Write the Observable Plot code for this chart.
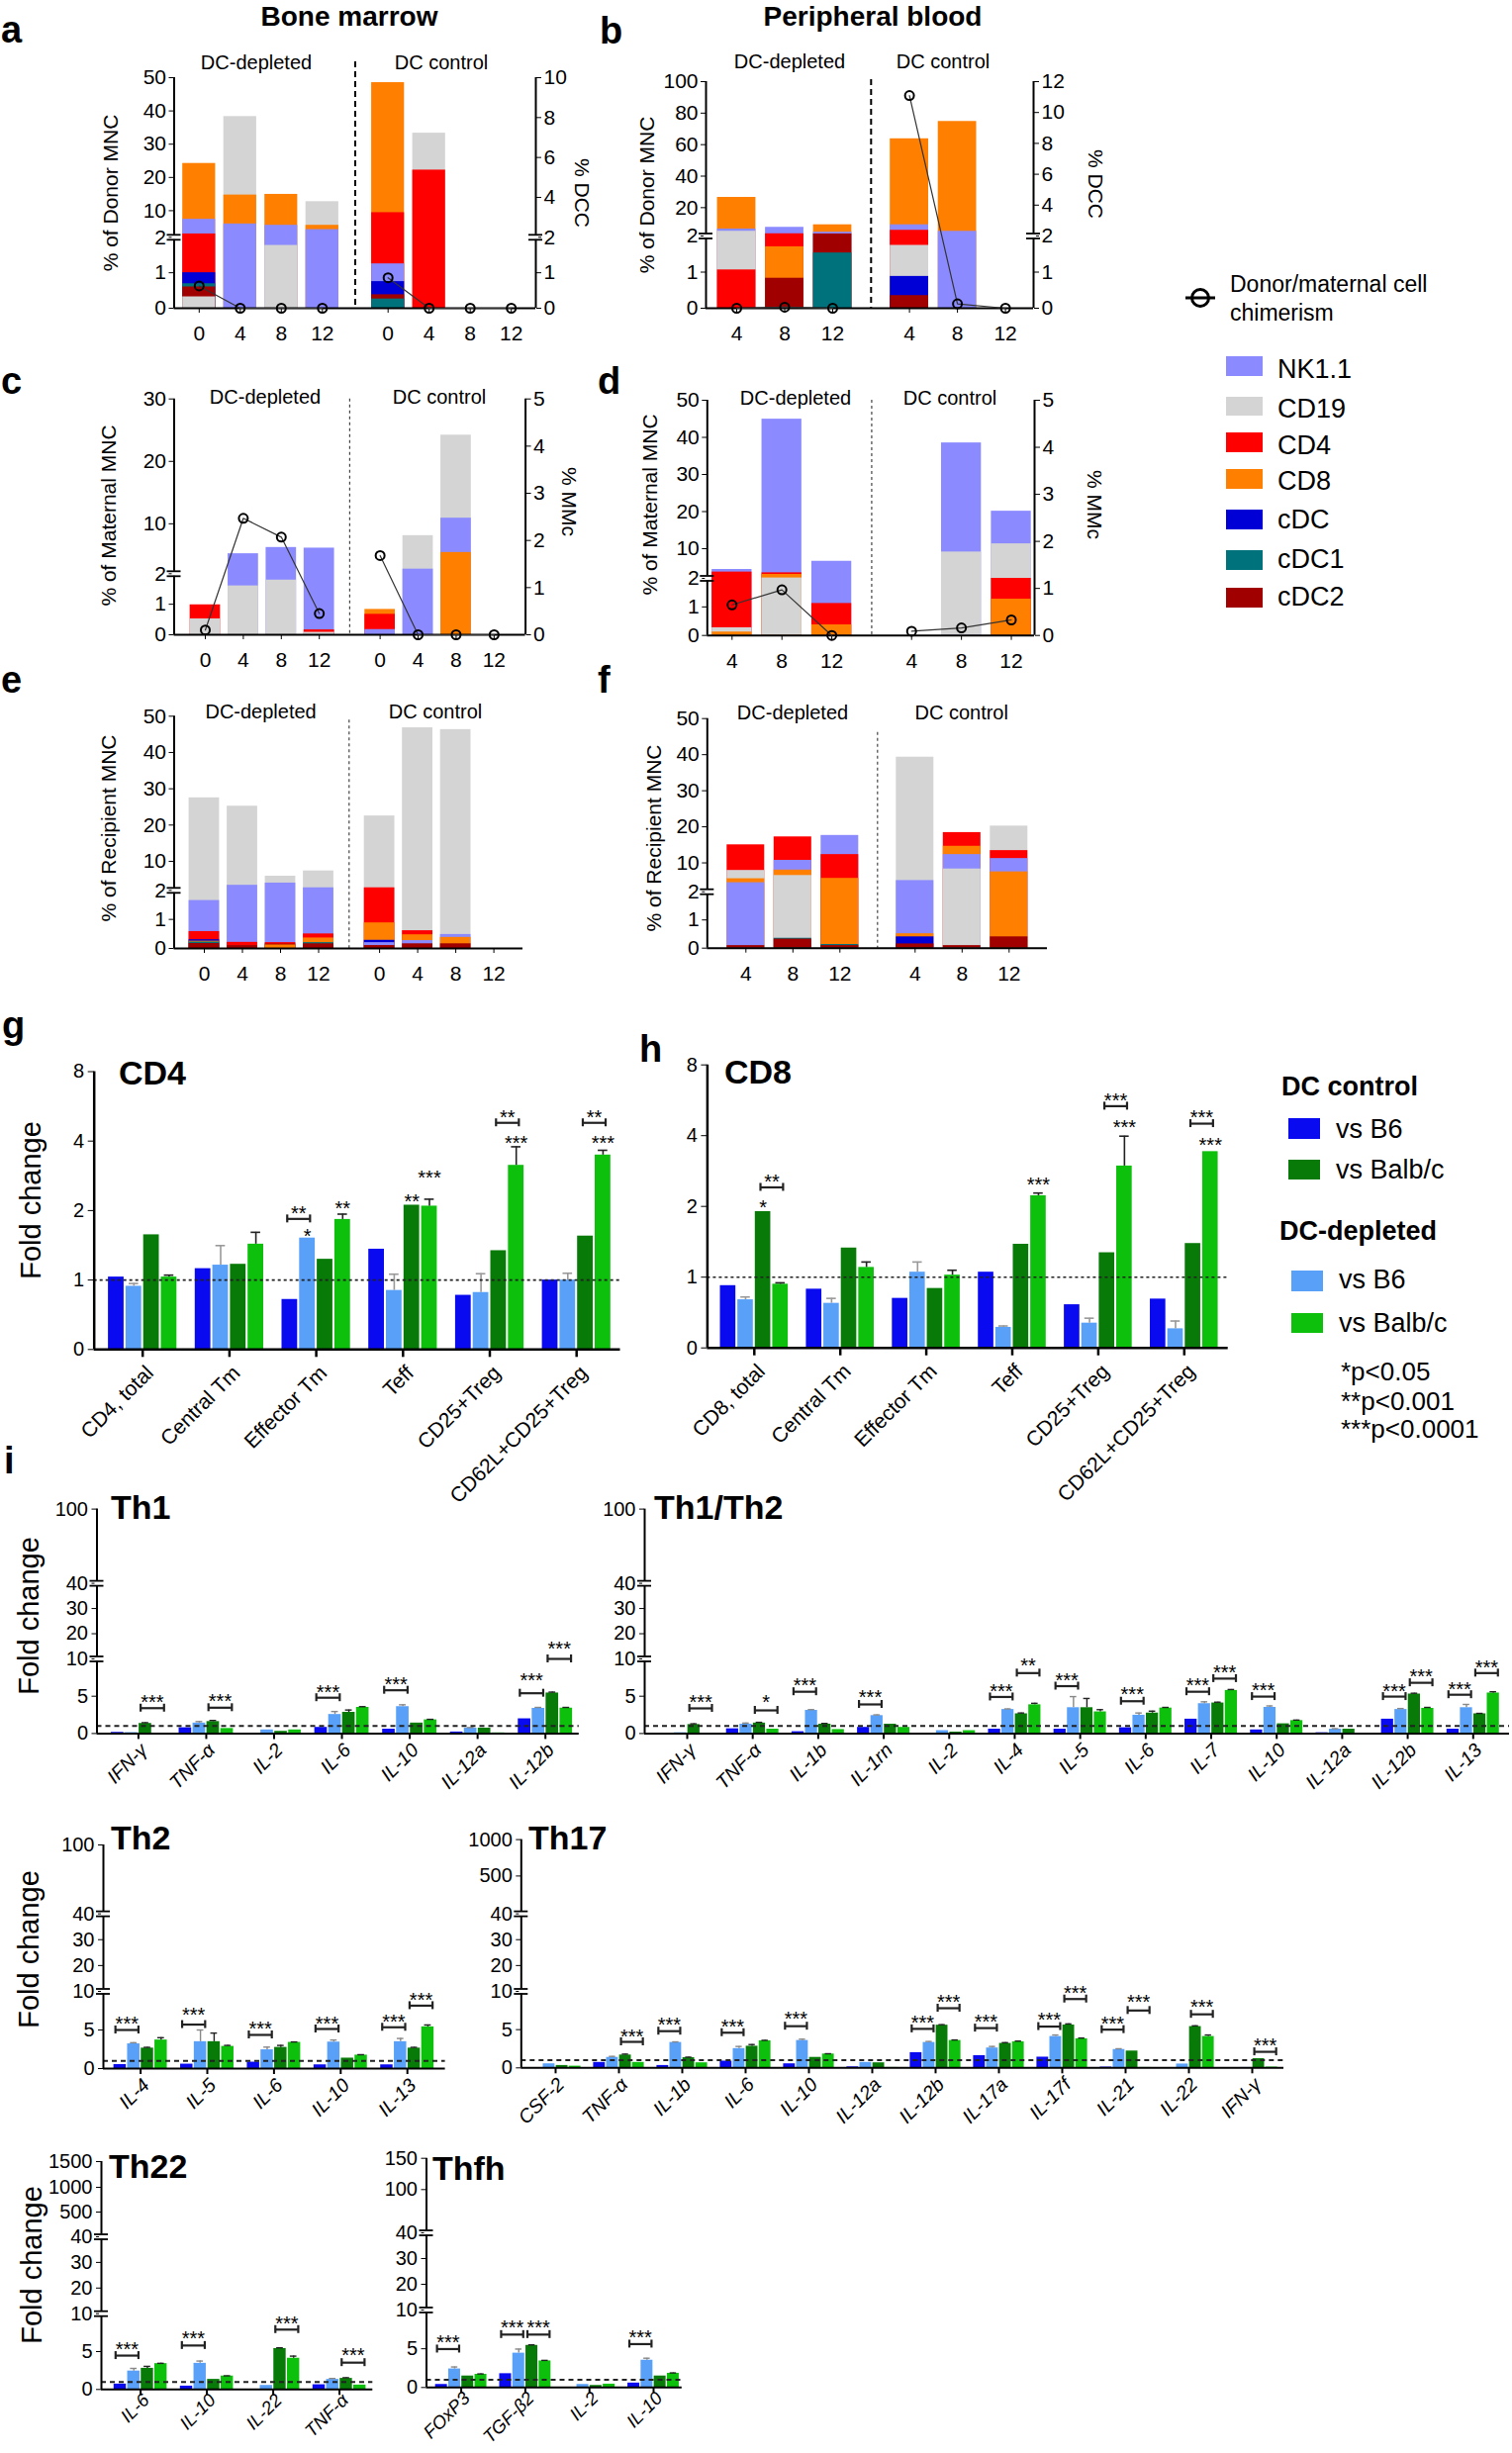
<!DOCTYPE html>
<html><head><meta charset="utf-8">
<script src="https://cdn.jsdelivr.net/npm/d3@7"></script>
<script src="https://cdn.jsdelivr.net/npm/@observablehq/plot@0.6"></script>
<style>
html,body{margin:0;padding:0;background:#fff;}
#root{position:relative;width:1528px;height:2479px;overflow:hidden;background:#fff;font-family:"Liberation Sans",Arial,Helvetica,sans-serif;color:#000;}
.t{position:absolute;white-space:nowrap;}
</style></head>
<body><div id="root"></div>
<script>
// ======================= DATA =======================
const cellTypes = ["NK1.1", "CD19", "CD4", "CD8", "cDC", "cDC1", "cDC2"];
const cellColors = ["#8b8bff", "#d4d4d4", "#ff0000", "#ff8000", "#0000d6", "#00727c", "#a00000"];
const weeksBM = ["0", "4", "8", "12"];
const weeksPB = ["4", "8", "12"];
const groupLabels = ["DC-depleted", "DC control"];

// a – Bone marrow, % of donor MNC (DC-depleted 0,4,8,12 | DC control 0,4,8,12)
const aNK1 = [7.4, 6.0, 5.6, 4.3, 1.25, 0, 0, 0];
const aCD19 = [0.32, 38.3, 1.77, 12.7, 0, 33.3, 0, 0];
const aCD4 = [3.0, 0, 0, 0, 9.4, 22.2, 0, 0];
const aCD8 = [24.2, 14.7, 14.9, 5.6, 48.5, 0, 0, 0];
const aCDC = [1.0, 0, 0, 0, 0.75, 0, 0, 0];
const aCDC1 = [0.69, 0, 0, 0, 0.26, 0, 0, 0];
const aCDC2 = [0.6, 0, 0, 0, 0.38, 0, 0, 0];
const aChim = [0.63, 0, 0, 0, 0.86, 0, 0, 0];

// b – Peripheral blood, % of donor MNC (4,8,12 | 4,8,12)
const bNK1 = [6.4, 7.5, 4.4, 9.1, 4.95, 0];
const bCD19 = [5.0, 0, 0, 1.74, 0, 0];
const bCD4 = [1.06, 3.4, 0, 5.6, 0, 0];
const bCD8 = [26.5, 1.7, 9.1, 63.7, 74.7, 0];
const bCDC = [0, 0, 0, 0.88, 0, 0];
const bCDC1 = [0, 0, 1.53, 0, 0, 0];
const bCDC2 = [0, 0.83, 3.3, 0.35, 0, 0];
const bChim = [0, 0.03, 0, 11.1, 0.12, 0];

// c – Bone marrow, % of maternal MNC
const cNK1 = [0, 5.2, 6.2, 6.1, 0.17, 2.73, 10.9, 0];
const cCD19 = [0.52, 1.6, 1.79, 0.08, 0, 8.1, 24.2, 0];
const cCD4 = [0.98, 0, 0, 0.16, 0.67, 0, 0, 0];
const cCD8 = [0, 0, 0, 0, 0.83, 0, 5.4, 0];
const cCDC = [0, 0, 0, 0, 0, 0, 0, 0];
const cCDC1 = [0, 0, 0, 0, 0, 0, 0, 0];
const cCDC2 = [0, 0, 0, 0, 0, 0, 0, 0];
const cChim = [0.1, 2.47, 2.07, 0.45, 1.68, 0, 0, 0];

// d – Peripheral blood, % of maternal MNC
const dNK1 = [4.4, 44.9, 6.6, 0, 38.5, 20.1];
const dCD19 = [0.27, 2.1, 0, 0, 9.1, 11.3];
const dCD4 = [3.7, 3.5, 1.12, 0, 0, 2.0];
const dCD8 = [0.12, 3.07, 0.37, 0, 0, 1.27];
const dCDC = [0, 0, 0, 0, 0, 0];
const dCDC1 = [0, 0, 0, 0, 0, 0];
const dCDC2 = [0, 0, 0, 0, 0, 0];
const dChim = [0.65, 0.97, 0, 0.09, 0.16, 0.33];

// e – Bone marrow, % of recipient MNC
const eNK1 = [1.65, 3.4, 4.0, 2.7, 0.2, 0.27, 0.48, 0];
const eCD19 = [27.5, 25.2, 5.9, 7.35, 22.5, 46.8, 46.3, 0];
const eCD4 = [0.58, 0.21, 0.2, 0.5, 2.7, 0.61, 0, 0];
const eCD8 = [0.25, 0.1, 0.12, 0.36, 0.88, 0.47, 0.38, 0];
const eCDC = [0.3, 0, 0, 0, 0.28, 0, 0, 0];
const eCDC1 = [0.22, 0, 0, 0.2, 0, 0, 0, 0];
const eCDC2 = [0.17, 0.1, 0.15, 0.16, 0.1, 0.16, 0.16, 0];

// f – Peripheral blood, % of recipient MNC
const fNK1 = [4.5, 10.7, 17.6, 5.1, 12.3, 11.2];
const fCD19 = [7.9, 6.5, 0, 39.3, 8.3, 20.2];
const fCD4 = [15.0, 17.2, 12.3, 0, 18.4, 13.4];
const fCD8 = [5.6, 8.0, 5.7, 0.51, 14.6, 7.5];
const fCDC = [0, 0, 0, 0.4, 0, 0];
const fCDC1 = [0, 0.35, 0.13, 0, 0, 0];
const fCDC2 = [0.09, 0.32, 0.09, 0.15, 0.09, 0.4];

// g/h/i series: DC control vs B6, DC-depleted vs B6, DC control vs Balb/c, DC-depleted vs Balb/c
const seriesNames = ["DC control vs B6", "DC-depleted vs B6", "DC control vs Balb/c", "DC-depleted vs Balb/c"];
const seriesColors = ["#0a0af0", "#58a0f8", "#077a07", "#0cc00c"];

// g – CD4
const gCats = ["CD4, total", "Central Tm", "Effector Tm", "Teff", "CD25+Treg", "CD62L+CD25+Treg"];
const gCtrlB6 = [1.03, 1.12, 0.72, 1.36, 0.78, 1.0];
const gDepB6 = [0.91, 1.16, 1.52, 0.85, 0.82, 1.0];
const gCtrlBalb = [1.57, 1.17, 1.23, 2.11, 1.34, 1.55];
const gDepBalb = [1.03, 1.43, 1.83, 2.09, 3.14, 3.48];
const gDepB6Err = [0.95, 1.41, null, 1.06, 1.065, 1.07];
const gDepBalbErr = [1.05, 1.61, 1.93, 2.24, 3.78, 3.65];
// [category, from series, to series, bracket level, text level, label]
const gSig = [
  [2, 0, 1, 1.84, 2.05, "**"], [2, 1, 1, null, 1.62, "*"], [2, 3, 3, null, 2.15, "**"],
  [3, 2, 2, null, 2.3, "**"], [3, 3, 3, null, 2.9, "***"],
  [4, 2, 3, 4.8, 5.3, "**"], [4, 3, 3, null, 4.13, "***"],
  [5, 2, 3, 4.8, 5.3, "**"], [5, 3, 3, null, 4.13, "***"]
];

// h – CD8
const hCats = ["CD8, total", "Central Tm", "Effector Tm", "Teff", "CD25+Treg", "CD62L+CD25+Treg"];
const hCtrlB6 = [0.88, 0.83, 0.70, 1.05, 0.61, 0.69];
const hDepB6 = [0.68, 0.63, 1.05, 0.29, 0.35, 0.27];
const hCtrlBalb = [1.9, 1.33, 0.84, 1.38, 1.27, 1.39];
const hDepBalb = [0.9, 1.1, 1.02, 2.22, 2.97, 3.42];
const hDepB6Err = [0.72, 0.70, 1.16, 0.31, 0.42, 0.38];
const hDepBalbErr = [0.92, 1.16, 1.07, 2.28, 3.98, null];
const hSig = [
  [0, 2, 2, null, 2.07, "*"], [0, 2, 3, 2.41, 2.66, "**"],
  [3, 3, 3, null, 2.6, "***"],
  [4, 2, 3, 5.34, 5.92, "***"], [4, 3, 3, null, 4.53, "***"],
  [5, 2, 3, 4.5, 5.0, "***"], [5, 3, 3, null, 3.83, "***"]
];

// i – Th1
const th1Cats = ["IFN-γ", "TNF-α", "IL-2", "IL-6", "IL-10", "IL-12a", "IL-12b"];
const th1CtrlB6 = [0.15, 0.77, 0, 0.82, 0.58, 0.2, 1.97];
const th1DepB6 = [0.12, 1.4, 0.48, 2.55, 3.6, 0.72, 3.37];
const th1CtrlBalb = [1.35, 1.6, 0.29, 2.84, 1.4, 0.72, 5.43];
const th1DepBalb = [0.05, 0.67, 0.48, 3.5, 1.83, 0.08, 3.4];
const th1DepB6Err = [null, 1.6, null, 2.95, 3.85, 0.8, 3.5];
const th1CtrlBalbErr = [1.45, 1.75, null, 3.15, null, null, 5.55];
const th1DepBalbErr = [null, null, null, 3.6, 1.9, null, 3.5];
const th1Sig = [[0, 2, 3, 3.4, 4.8, "***"], [1, 2, 3, 3.46, 5.0, "***"], [3, 0, 1, 4.8, 6.2, "***"],
  [4, 0, 1, 5.8, 7.2, "***"], [6, 0, 1, 5.4, 7.7, "***"], [6, 2, 3, 10, 16.1, "***"]];

// i – Th1/Th2
const thxCats = ["IFN-γ", "TNF-α", "IL-1b", "IL-1rn", "IL-2", "IL-4", "IL-5", "IL-6", "IL-7", "IL-10", "IL-12a", "IL-12b", "IL-13"];
const thxCtrlB6 = [0.05, 0.63, 0.24, 0.82, 0, 0.58, 0.58, 0.77, 1.92, 0.48, 0.1, 1.92, 0.58];
const thxDepB6 = [0.1, 1.25, 3.1, 2.4, 0.38, 3.22, 3.46, 2.45, 4.0, 3.5, 0.58, 3.22, 3.46];
const thxCtrlBalb = [1.2, 1.4, 1.25, 1.25, 0.19, 2.64, 3.46, 2.74, 4.09, 1.3, 0.58, 5.29, 2.64];
const thxDepBalb = [0.05, 0.58, 0.53, 0.82, 0.38, 3.85, 2.9, 3.41, 5.77, 1.73, 0.05, 3.37, 5.43];
const thxDepB6Err = [null, 1.4, 3.2, 2.5, null, 3.3, 4.95, 2.75, 4.25, 3.7, 0.65, 3.35, 3.9];
const thxCtrlBalbErr = [1.3, 1.5, 1.35, null, null, 2.75, 4.7, 3.0, 4.2, null, null, 5.4, 2.7];
const thxDepBalbErr = [null, null, null, null, null, 4.05, 3.2, 3.5, 5.9, 1.8, null, 3.5, 5.6];
const thxSig = [[0, 2, 3, 3.37, 4.8, "***"], [1, 2, 3, 3.1, 4.8, "*"], [2, 0, 1, 5.6, 7.1, "***"],
  [3, 0, 1, 3.9, 5.5, "***"], [5, 0, 1, 4.9, 6.25, "***"], [5, 2, 3, 8.1, 9.7, "**"],
  [6, 0, 1, 6.35, 7.7, "***"], [7, 0, 1, 4.33, 5.96, "***"], [8, 0, 1, 5.6, 7.07, "***"],
  [8, 2, 3, 7.36, 8.8, "***"], [9, 0, 1, 4.95, 6.4, "***"], [11, 0, 1, 4.95, 6.35, "***"],
  [11, 2, 3, 6.8, 8.3, "***"], [12, 0, 1, 5.2, 6.6, "***"], [12, 2, 3, 8.1, 9.5, "***"]];

// i – Th2
const th2Cats = ["IL-4", "IL-5", "IL-6", "IL-10", "IL-13"];
const th2CtrlB6 = [0.52, 0.57, 0.83, 0.48, 0.48];
const th2DepB6 = [3.2, 3.48, 2.43, 3.43, 3.48];
const th2CtrlBalb = [2.65, 3.48, 2.74, 1.35, 2.65];
const th2DepBalb = [3.7, 2.87, 3.39, 1.74, 5.4];
const th2DepB6Err = [3.35, 5.0, 2.78, 3.7, 3.9];
const th2CtrlBalbErr = [2.75, 4.6, 3.0, null, 2.75];
const th2DepBalbErr = [4.0, 3.0, 3.45, 1.8, 5.65];
const th2Sig = [[0, 0, 1, 5.0, 6.4, "***"], [1, 0, 1, 5.7, 7.6, "***"], [2, 0, 1, 4.36, 5.77, "***"],
  [3, 0, 1, 5.13, 6.4, "***"], [4, 0, 1, 5.35, 6.7, "***"], [4, 2, 3, 8.15, 9.5, "***"]];

// i – Th17
const th17Cats = ["CSF-2", "TNF-α", "IL-1b", "IL-6", "IL-10", "IL-12a", "IL-12b", "IL-17a", "IL-17f", "IL-21", "IL-22", "IFN-γ"];
const th17CtrlB6 = [0, 0.71, 0.31, 0.88, 0.53, 0.13, 1.99, 1.6, 1.4, 0.1, 0, 0];
const th17DepB6 = [0.53, 1.37, 3.32, 2.52, 3.58, 0.71, 3.32, 2.6, 4.1, 2.4, 0.5, 0.05];
const th17CtrlBalb = [0.31, 1.68, 1.33, 2.83, 1.37, 0.66, 5.58, 3.2, 5.6, 2.2, 5.4, 1.2];
const th17DepBalb = [0.22, 0.71, 0.66, 3.54, 1.81, 0.05, 3.58, 3.4, 3.8, 0.05, 4.1, 0.1];
const th17DepB6Err = [null, 1.5, 3.4, 2.8, 3.75, null, 3.45, 2.8, 4.3, 2.5, null, null];
const th17CtrlBalbErr = [null, 1.8, 1.4, 3.05, null, null, 5.65, 3.3, 5.75, null, 5.5, null];
const th17DepBalbErr = [null, null, null, 3.6, 1.85, null, 3.65, 3.5, 3.9, null, 4.3, null];
const th17Sig = [[1, 2, 3, 3.4, 4.75, "***"], [2, 0, 1, 4.8, 6.2, "***"], [3, 0, 1, 4.6, 6.0, "***"],
  [4, 0, 1, 5.45, 7.0, "***"], [6, 0, 1, 5.1, 6.5, "***"], [6, 2, 3, 7.8, 9.3, "***"],
  [7, 0, 1, 5.2, 6.6, "***"], [8, 0, 1, 5.4, 6.9, "***"], [8, 2, 3, 9.0, 11.1, "***"],
  [9, 0, 1, 5.0, 6.4, "***"], [9, 2, 3, 7.5, 9.2, "***"], [10, 2, 3, 7.0, 8.6, "***"],
  [11, 2, 3, 2.1, 3.5, "***"]];

// i – Th22
const th22Cats = ["IL-6", "IL-10", "IL-22", "TNF-α"];
const th22CtrlB6 = [0.71, 0.44, 0, 0.62];
const th22DepB6 = [2.43, 3.45, 0.53, 1.33];
const th22CtrlBalb = [2.79, 1.33, 5.4, 1.46];
const th22DepBalb = [3.41, 1.77, 4.12, 0.58];
const th22DepB6Err = [2.78, 3.75, null, 1.45];
const th22CtrlBalbErr = [3.05, null, 5.5, 1.55];
const th22DepBalbErr = [3.45, 1.8, 4.4, null];
const th22Sig = [[0, 0, 1, 4.47, 5.9, "***"], [1, 0, 1, 5.8, 7.3, "***"], [2, 2, 3, 7.9, 9.3, "***"], [3, 2, 3, 3.54, 5.1, "***"]];

// i – Thfh
const thfhCats = ["FOxP3", "TGF-β2", "IL-2", "IL-10"];
const thfhCtrlB6 = [0.39, 1.78, 0, 0.57];
const thfhDepB6 = [2.39, 4.43, 0.39, 3.52];
const thfhCtrlBalb = [1.48, 5.43, 0.26, 1.48];
const thfhDepBalb = [1.7, 3.43, 0.43, 1.83];
const thfhDepB6Err = [2.65, 4.96, null, 3.78];
const thfhCtrlBalbErr = [null, 5.5, null, null];
const thfhDepBalbErr = [1.75, 3.5, null, 1.88];
const thfhSig = [[0, 0, 1, 4.96, 6.4, "***"], [1, 0, 1, 6.83, 8.35, "***"], [1, 2, 3, 6.83, 8.35, "***"], [3, 0, 1, 5.6, 7.05, "***"]];

// ======================= RENDERING =======================
const FONT = '"Liberation Sans", Arial, Helvetica, sans-serif';
const W = 1528, H = 2479;
const root = document.getElementById("root");

function mount(svg, fs) {
  Object.assign(svg.style, {position: "absolute", left: "0px", top: "0px", maxWidth: "none", width: W + "px", height: H + "px",
    background: "none", overflow: "visible", pointerEvents: "none", fontFamily: FONT, fontSize: fs + "px"});
  root.appendChild(svg);
}

function T(str, x, y, o = {}) {
  const size = o.size || 20;
  const lh = o.lh || 1;
  const d = document.createElement("div");
  d.className = "t";
  d.textContent = str;
  d.style.fontSize = size + "px";
  d.style.lineHeight = (size * lh) + "px";
  if (o.weight) d.style.fontWeight = o.weight;
  d.style.left = x + "px";
  if (o.rot) {
    d.style.top = y + "px";
    d.style.transform = `translate(-50%, -50%) rotate(${o.rot}deg)`;
  } else {
    const base = (lh - 1.117) / 2 * size + 0.905 * size;
    d.style.top = (y - base) + "px";
    const tx = o.anchor === "middle" ? "-50%" : o.anchor === "end" ? "-100%" : "0";
    d.style.transform = `translateX(${tx})`;
  }
  root.appendChild(d);
}
function box(x, y, w, h, color) {
  const d = document.createElement("div");
  d.className = "t";
  Object.assign(d.style, {left: x + "px", top: y + "px", width: w + "px", height: h + "px", background: color});
  root.appendChild(d);
}

// broken (segmented) value axis: maps a value to its fraction of the frame height, segment by segment
function segmented(knots, px) {
  const bottom = px[0], top = px[px.length - 1];
  const fr = px.map(p => (bottom - p) / (bottom - top));
  const f = v => {
    for (let i = 1; i < knots.length; i++) {
      if (v <= knots[i] || i === knots.length - 1) return fr[i - 1] + (v - knots[i - 1]) / (knots[i] - knots[i - 1]) * (fr[i] - fr[i - 1]);
    }
  };
  return {f, top, bottom};
}
// log2 axis above 1, linear 0–1 (Prism style)
function log2Axis(bottom, unit, maxV) {
  const n = 1 + Math.log2(maxV);
  const f = v => (v <= 1 ? v : 1 + Math.log2(v)) / n;
  return {f, top: bottom - unit * n, bottom};
}
function yScaleOpts(ax, ticks, extra = {}) {
  const tf = t => { const k = ticks.find(v => Math.abs(ax.f(v) - t) < 1e-9); return k == null ? "" : String(k); };
  return {domain: [0, 1], ticks: ticks.map(ax.f), tickFormat: tf, label: null, ...extra};
}

function breakMarks(xAt, fvals, half) {
  if (!fvals || !fvals.length) return [];
  return [
    Plot.ruleX(fvals, {x: () => xAt, y1: v => v, y2: v => v, insetTop: -2.5, insetBottom: -2.5, stroke: "#fff", strokeWidth: 5}),
    Plot.ruleY(fvals, {y: v => v, x1: () => xAt - half, x2: () => xAt + half, dy: -2.5, stroke: "#000", strokeWidth: 1.8}),
    Plot.ruleY(fvals, {y: v => v, x1: () => xAt - half, x2: () => xAt + half, dy: 2.5, stroke: "#000", strokeWidth: 1.8})
  ];
}

function stackPanel(cfg) {
  const n = cfg.weeks.length;
  const pos = i => (i < n ? i : i + 0.6);
  const xl = (cfg.left - cfg.c0) / cfg.sp, xr = (cfg.right - cfg.c0) / cfg.sp;
  const ax = segmented(cfg.yKnots, cfg.yPx);
  const rows = [];
  cfg.vals.forEach((arr, k) => arr.forEach((v, i) => { if (v > 0) rows.push({type: cellTypes[k], pos: pos(i), value: v}); }));
  rows.sort((a, b) => b.value - a.value);
  const tickPos = d3.range(2 * n).map(pos);
  const fmt = p => { const i = tickPos.findIndex(q => Math.abs(q - p) < 1e-6); return i < 0 ? "" : cfg.weeks[i % n]; };
  const frame = {width: W, height: H, marginLeft: cfg.left, marginRight: W - cfg.right, marginTop: ax.top, marginBottom: H - ax.bottom};
  const half = 7 / cfg.sp;
  mount(Plot.plot({
    ...frame,
    x: {domain: [xl, xr], ticks: tickPos, tickFormat: fmt, tickSize: 5, tickPadding: 13, label: null},
    y: yScaleOpts(ax, cfg.yTicks, {tickSize: 5, tickPadding: 3}),
    color: {domain: cellTypes, range: cellColors},
    marks: [
      Plot.rect(rows, {x1: d => d.pos - 0.4, x2: d => d.pos + 0.4, y1: () => 0, y2: d => ax.f(d.value), fill: "type"}),
      Plot.ruleX([n - 0.2], {stroke: cfg.sep.color, strokeWidth: cfg.sep.width, strokeDasharray: cfg.sep.dash, insetTop: -cfg.sep.ext}),
      Plot.ruleY([0], {stroke: "#000", strokeWidth: 2}),
      Plot.ruleX([xl], {stroke: "#000", strokeWidth: 2}),
      ...breakMarks(xl, cfg.yBreak.map(ax.f), half)
    ]
  }), 21);
  if (cfg.chim) {
    const rx = segmented(cfg.rKnots, cfg.rPx);
    const crow = cfg.chim.map((v, i) => ({pos: pos(i), value: v, g: i < n ? 0 : 1}));
    mount(Plot.plot({
      ...frame,
      x: {domain: [xl, xr], axis: null},
      y: yScaleOpts(rx, cfg.rTicks, {axis: "right", tickSize: 5, tickPadding: 3}),
      marks: [
        Plot.line(crow, {x: "pos", y: d => rx.f(d.value), z: "g", stroke: "#333", strokeWidth: 1.2}),
        Plot.dot(crow, {x: "pos", y: d => rx.f(d.value), r: 4.5, stroke: "#000", strokeWidth: 2, fill: "none"}),
        Plot.ruleX([xr], {stroke: "#000", strokeWidth: 2}),
        ...breakMarks(xr, cfg.rBreak.map(rx.f), half)
      ]
    }), 21);
  }
}

function foldPanel(cfg) {
  const {cats, series, errs, sig, geo, ax, ticks, breaks, st} = cfg;
  const f = ax.f;
  const xl = (geo.left - geo.c0) / geo.sp, xr = (geo.right - geo.c0) / geo.sp;
  const pos = (c, s) => c + (s - 1.5) * st.step;
  const bars = [];
  series.forEach((arr, s) => arr.forEach((v, c) => { if (v > 0) bars.push({s: seriesNames[s], pos: pos(c, s), value: v}); }));
  const errMarks = [];
  errs.forEach((arr, s) => {
    if (!arr) return;
    const rows = [];
    arr.forEach((t, c) => { if (t != null) rows.push({pos: pos(c, s), v: series[s][c], top: t}); });
    errMarks.push(Plot.ruleX(rows, {x: "pos", y1: d => f(d.v), y2: d => f(d.top), stroke: st.errColors[s], strokeWidth: st.errW}));
    errMarks.push(Plot.ruleY(rows, {y: d => f(d.top), x1: d => d.pos - st.cap, x2: d => d.pos + st.cap, stroke: st.errColors[s], strokeWidth: st.errW}));
  });
  const brackets = sig.filter(d => d[3] != null).map(d => ({xa: pos(d[0], d[1]) - st.ext, xb: pos(d[0], d[2]) + st.ext, y: d[3]}));
  const ends = brackets.flatMap(b => [{x: b.xa, y: b.y}, {x: b.xb, y: b.y}]);
  const stars = sig.map(d => ({x: (pos(d[0], d[1]) + pos(d[0], d[2])) / 2, y: d[4], t: d[5]}));
  const catIdx = cats.map((d, i) => i);
  mount(Plot.plot({
    width: W, height: H, marginLeft: geo.left, marginRight: W - geo.right, marginTop: ax.top, marginBottom: H - ax.bottom,
    x: {domain: [xl, xr], axis: null},
    y: yScaleOpts(ax, ticks, {tickSize: st.yTick, tickPadding: 4}),
    color: {domain: seriesNames, range: seriesColors},
    marks: [
      Plot.rect(bars, {x1: d => d.pos - st.bw / 2, x2: d => d.pos + st.bw / 2, y1: () => 0, y2: d => f(d.value), fill: "s"}),
      ...errMarks,
      Plot.ruleY([f(1)], {stroke: "#222", strokeWidth: st.refW, strokeDasharray: st.refDash}),
      Plot.ruleY([0], {stroke: "#000", strokeWidth: st.axisW}),
      Plot.ruleX([xl], {stroke: "#000", strokeWidth: st.axisW}),
      Plot.ruleX(catIdx, {y1: () => 0, y2: () => 0, insetTop: 0, insetBottom: -st.xTick, stroke: "#000", strokeWidth: st.axisW}),
      Plot.text(cats, {x: (d, i) => i, frameAnchor: "bottom", text: d => d, rotate: -45, textAnchor: "end",
        dx: st.ldx, dy: st.ldy, fontSize: st.lsize, fontStyle: st.italic ? "italic" : "normal", fill: "#000"}),
      ...breakMarks(xl, breaks.map(f), 7 / geo.sp),
      Plot.ruleY(brackets, {y: d => f(d.y), x1: "xa", x2: "xb", stroke: "#222", strokeWidth: st.brW}),
      Plot.ruleX(ends, {x: "x", y1: d => f(d.y), y2: d => f(d.y), insetTop: -st.brCap, insetBottom: -st.brCap, stroke: "#222", strokeWidth: st.brW}),
      Plot.text(stars, {x: "x", y: d => f(d.y), text: "t", fontSize: st.ssize, dy: st.sdy, fill: "#000"})
    ]
  }), st.tsize);
}

// ---------- panels a–f ----------
const sepBold = {color: "#000", width: 2, dash: "6,4"};
const sepThin = {color: "#444", width: 1.2, dash: "3,3", ext: 0};
stackPanel({vals: [aNK1, aCD19, aCD4, aCD8, aCDC, aCDC1, aCDC2], weeks: weeksBM, chim: aChim,
  c0: 200.8, sp: 41.5, left: 175.5, right: 541,
  yKnots: [0, 2, 50], yPx: [311, 239.3, 78], yTicks: [0, 1, 2, 10, 20, 30, 40, 50], yBreak: [2],
  rKnots: [0, 2, 10], rPx: [311, 239.3, 78], rTicks: [0, 1, 2, 4, 6, 8, 10], rBreak: [2], sep: {...sepBold, ext: 16}});
stackPanel({vals: [bNK1, bCD19, bCD4, bCD8, bCDC, bCDC1, bCDC2], weeks: weeksPB, chim: bChim,
  c0: 744, sp: 48.5, left: 713, right: 1044,
  yKnots: [0, 2, 100], yPx: [311, 238, 82], yTicks: [0, 1, 2, 20, 40, 60, 80, 100], yBreak: [2],
  rKnots: [0, 2, 12], rPx: [311, 238, 82], rTicks: [0, 1, 2, 4, 6, 8, 10, 12], rBreak: [2], sep: {...sepBold, ext: 2}});
stackPanel({vals: [cNK1, cCD19, cCD4, cCD8, cCDC, cCDC1, cCDC2], weeks: weeksBM, chim: cChim,
  c0: 207, sp: 38.4, left: 175.5, right: 530.6,
  yKnots: [0, 2, 30], yPx: [641, 579.3, 402.7], yTicks: [0, 1, 2, 10, 20, 30], yBreak: [2],
  rKnots: [0, 5], rPx: [641, 402.7], rTicks: [0, 1, 2, 3, 4, 5], rBreak: [], sep: sepThin});
stackPanel({vals: [dNK1, dCD19, dCD4, dCD8, dCDC, dCDC1, dCDC2], weeks: weeksPB, chim: dChim,
  c0: 739.3, sp: 50.4, left: 714.3, right: 1045,
  yKnots: [0, 2, 50], yPx: [641.7, 584, 404], yTicks: [0, 1, 2, 10, 20, 30, 40, 50], yBreak: [2],
  rKnots: [0, 5], rPx: [641.7, 404], rTicks: [0, 1, 2, 3, 4, 5], rBreak: [], sep: sepThin});
stackPanel({vals: [eNK1, eCD19, eCD4, eCD8, eCDC, eCDC1, eCDC2], weeks: weeksBM, chim: null,
  c0: 206, sp: 38.5, left: 175.5, right: 528,
  yKnots: [0, 2, 50], yPx: [958, 899.3, 723.3], yTicks: [0, 1, 2, 10, 20, 30, 40, 50], yBreak: [2], sep: {...sepThin, ext: -4}});
stackPanel({vals: [fNK1, fCD19, fCD4, fCD8, fCDC, fCDC1, fCDC2], weeks: weeksPB, chim: null,
  c0: 753.3, sp: 47.5, left: 714.3, right: 1058,
  yKnots: [0, 2, 50], yPx: [957.7, 900.7, 725.7], yTicks: [0, 1, 2, 10, 20, 30, 40, 50], yBreak: [2], sep: {...sepThin, ext: -14}});

// ---------- panels g, h ----------
const ghStyle = {step: 0.203, bw: 0.18, ext: 0.03, cap: 0.055, errW: 1.6, errColors: ["#222", "#999", "#222", "#222"],
  refW: 1.6, refDash: "3,3", axisW: 2.5, xTick: 8, yTick: 6, brW: 2.2, brCap: 4, lsize: 21, italic: false,
  ldx: 12, ldy: 25, ssize: 20, sdy: 5.2, tsize: 20};
foldPanel({cats: gCats, series: [gCtrlB6, gDepB6, gCtrlBalb, gDepBalb], errs: [null, gDepB6Err, null, gDepBalbErr], sig: gSig,
  geo: {c0: 143.7, sp: 87.7, left: 94.7, right: 626.5}, ax: log2Axis(1363.3, 70.2, 8), ticks: [0, 1, 2, 4, 8], breaks: [], st: ghStyle});
foldPanel({cats: hCats, series: [hCtrlB6, hDepB6, hCtrlBalb, hDepBalb], errs: [null, hDepB6Err, null, hDepBalbErr], sig: hSig,
  geo: {c0: 761.8, sp: 86.9, left: 714.4, right: 1240.7}, ax: log2Axis(1361.7, 71.5, 8), ticks: [0, 1, 2, 4, 8], breaks: [], st: ghStyle});

// ---------- panel i ----------
const iStyle = {step: 0.205, bw: 0.185, ext: 0.07, cap: 0.05, errW: 1.4, errColors: ["#222", "#888", "#222", "#222"],
  refW: 2, refDash: "5,4", axisW: 2, xTick: 6, yTick: 5, brW: 2.2, brCap: 4, lsize: 19.5, italic: true,
  ldx: 10, ldy: 18, ssize: 20, sdy: 5.2, tsize: 20};
const iStyleLast = {...iStyle, lsize: 18.5, ldy: 12};
const row1Axis = () => segmented([0, 10, 40, 100], [1751.4, 1676, 1599.6, 1524.6]);
foldPanel({cats: th1Cats, series: [th1CtrlB6, th1DepB6, th1CtrlBalb, th1DepBalb], errs: [null, th1DepB6Err, th1CtrlBalbErr, th1DepBalbErr], sig: th1Sig,
  geo: {c0: 139.4, sp: 68.55, left: 97.5, right: 584.8}, ax: row1Axis(), ticks: [0, 5, 10, 20, 30, 40, 100], breaks: [10, 40], st: iStyle});
foldPanel({cats: thxCats, series: [thxCtrlB6, thxDepB6, thxCtrlBalb, thxDepBalb], errs: [null, thxDepB6Err, thxCtrlBalbErr, thxDepBalbErr], sig: thxSig,
  geo: {c0: 694, sp: 66.19, left: 651, right: 1525}, ax: row1Axis(), ticks: [0, 5, 10, 20, 30, 40, 100], breaks: [10, 40], st: iStyle});
foldPanel({cats: th2Cats, series: [th2CtrlB6, th2DepB6, th2CtrlBalb, th2DepBalb], errs: [null, th2DepB6Err, th2CtrlBalbErr, th2DepBalbErr], sig: th2Sig,
  geo: {c0: 141.6, sp: 67.4, left: 104, right: 449.6}, ax: segmented([0, 10, 40, 100], [2090, 2012, 1933.6, 1864]),
  ticks: [0, 5, 10, 20, 30, 40, 100], breaks: [10, 40], st: iStyle});
foldPanel({cats: th17Cats, series: [th17CtrlB6, th17DepB6, th17CtrlBalb, th17DepBalb], errs: [null, th17DepB6Err, th17CtrlBalbErr, th17DepBalbErr], sig: th17Sig,
  geo: {c0: 561, sp: 64, left: 526.3, right: 1297}, ax: segmented([0, 10, 40, 500, 1000], [2089.3, 2012, 1933.6, 1895.4, 1858.6]),
  ticks: [0, 5, 10, 20, 30, 40, 500, 1000], breaks: [10, 40], st: iStyle});
foldPanel({cats: th22Cats, series: [th22CtrlB6, th22DepB6, th22CtrlBalb, th22DepBalb], errs: [null, th22DepB6Err, th22CtrlBalbErr, th22DepBalbErr], sig: th22Sig,
  geo: {c0: 141.6, sp: 67, left: 102, right: 376.3}, ax: segmented([0, 10, 40, 500, 1000, 1500], [2414.3, 2337.7, 2260, 2235, 2210, 2184]),
  ticks: [0, 5, 10, 20, 30, 40, 500, 1000, 1500], breaks: [10, 40], st: iStyleLast});
foldPanel({cats: thfhCats, series: [thfhCtrlB6, thfhDepB6, thfhCtrlBalb, thfhDepBalb], errs: [null, thfhDepB6Err, thfhCtrlBalbErr, thfhDepBalbErr], sig: thfhSig,
  geo: {c0: 465.6, sp: 64.8, left: 430.5, right: 688.8}, ax: segmented([0, 10, 40, 100, 150], [2412.3, 2334, 2256, 2212.3, 2180.7]),
  ticks: [0, 5, 10, 20, 30, 40, 100, 150], breaks: [10, 40], st: iStyleLast});

// ---------- text ----------
T("Bone marrow", 353, 26.5, {size: 28, weight: "bold", anchor: "middle", lh: 0.8});
T("Peripheral blood", 882, 26.5, {size: 28, weight: "bold", anchor: "middle", lh: 0.8});
[["a", 1, 43], ["b", 606, 44], ["c", 1, 398], ["d", 604, 398], ["e", 1, 700], ["f", 604, 700], ["g", 2, 1049], ["h", 646, 1073], ["i", 4, 1489]]
  .forEach(([s, x, y]) => T(s, x, y, {size: 38, weight: "bold", lh: 0.85}));
[[259, 446, 70], [798, 953, 69], [268, 444, 407.7], [804, 960, 408.7], [263.6, 440, 726], [801, 971.7, 727.3]]
  .forEach(([x1, x2, y]) => { T(groupLabels[0], x1, y, {size: 20, anchor: "middle"}); T(groupLabels[1], x2, y, {size: 20, anchor: "middle"}); });
T("% of Donor MNC", 111, 195, {size: 21, rot: -90});
T("% DCC", 588, 195, {size: 21, rot: 90});
T("% of Donor MNC", 653, 197, {size: 21, rot: -90});
T("% DCC", 1107, 186, {size: 21, rot: 90});
T("% of Maternal MNC", 109, 521, {size: 21, rot: -90});
T("% MMc", 575, 507, {size: 21, rot: 90});
T("% of Maternal MNC", 656, 510, {size: 21, rot: -90});
T("% MMc", 1106, 510, {size: 21, rot: 90});
T("% of Recipient MNC", 109, 837, {size: 21, rot: -90});
T("% of Recipient MNC", 660, 847, {size: 21, rot: -90});

T("Fold change", 31, 1213, {size: 29, rot: -90});
T("CD4", 120, 1096, {size: 34, weight: "bold"});
T("CD8", 732, 1095, {size: 34, weight: "bold"});
T("Fold change", 29, 1633, {size: 29, rot: -90});
T("Fold change", 29, 1970, {size: 29, rot: -90});
T("Fold change", 32, 2289, {size: 29, rot: -90});
T("Th1", 112, 1535, {size: 34, weight: "bold"});
T("Th1/Th2", 661, 1535, {size: 34, weight: "bold"});
T("Th2", 112, 1869, {size: 34, weight: "bold"});
T("Th17", 534, 1869, {size: 34, weight: "bold"});
T("Th22", 110, 2201, {size: 34, weight: "bold"});
T("Thfh", 437, 2203, {size: 34, weight: "bold"});

// legend (a–f)
const sym = document.createElement("div");
sym.className = "t";
Object.assign(sym.style, {left: "1196px", top: "288px"});
sym.innerHTML = '<svg width="34" height="26"><line x1="2" y1="13" x2="32" y2="13" stroke="#000" stroke-width="3"/><circle cx="17" cy="13" r="8.5" fill="none" stroke="#000" stroke-width="3"/></svg>';
root.appendChild(sym);
T("Donor/maternal cell", 1243, 295, {size: 23});
T("chimerism", 1243, 324, {size: 23});
const legTops = [360, 400.7, 437.3, 474, 515, 556, 594.3];
const legBase = [382.7, 422.7, 460, 496, 535, 575, 613.3];
cellTypes.forEach((t, k) => { box(1239, legTops[k], 37, 19.5, cellColors[k]); T(t, 1291, legBase[k], {size: 27}); });

// legend (g–i)
T("DC control", 1295, 1108, {size: 27, weight: "bold"});
box(1302, 1130, 31.5, 20.7, seriesColors[0]); T("vs B6", 1350, 1150.7, {size: 27});
box(1302, 1171.7, 31.5, 20.7, seriesColors[2]); T("vs Balb/c", 1350, 1191.7, {size: 27});
T("DC-depleted", 1293, 1254, {size: 27, weight: "bold"});
box(1305, 1284.3, 32, 20.7, seriesColors[1]); T("vs B6", 1353, 1303.3, {size: 27});
box(1305, 1326.7, 32, 20.7, seriesColors[3]); T("vs Balb/c", 1353, 1346.7, {size: 27});
T("*p<0.05", 1355, 1395, {size: 26});
T("**p<0.001", 1355, 1425, {size: 26});
T("***p<0.0001", 1355, 1453, {size: 26});
</script>
</body></html>
